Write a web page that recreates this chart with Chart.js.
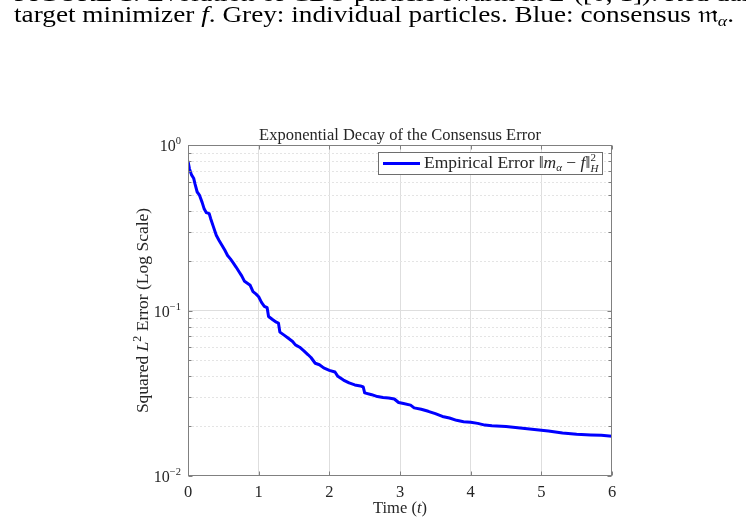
<!DOCTYPE html>
<html>
<head>
<meta charset="utf-8">
<script src="https://cdn.jsdelivr.net/npm/chart.js@4.4.0/dist/chart.umd.min.js"></script>
<style>
html,body{margin:0;padding:0;background:#fff;overflow:hidden;}
#wrap{position:absolute;left:0;top:0;width:746px;height:525px;}
</style>
</head>
<body>
<div id="wrap"><canvas id="c" width="746" height="525"></canvas></div>
<script>
// ---- data ----
const timePoints = [0, 0.02, 0.05, 0.08, 0.1, 0.13, 0.16, 0.2, 0.23, 0.26, 0.3, 0.32, 0.36, 0.4, 0.44, 0.48, 0.52, 0.56, 0.6, 0.64, 0.68, 0.72, 0.76, 0.8, 0.84, 0.88, 0.92, 0.96, 1.0, 1.04, 1.08, 1.12, 1.14, 1.2, 1.25, 1.28, 1.3, 1.36, 1.42, 1.48, 1.52, 1.58, 1.64, 1.7, 1.74, 1.8, 1.86, 1.92, 2.0, 2.08, 2.12, 2.2, 2.28, 2.36, 2.44, 2.48, 2.5, 2.6, 2.68, 2.76, 2.84, 2.92, 2.98, 3.05, 3.15, 3.2, 3.3, 3.4, 3.5, 3.6, 3.7, 3.8, 3.9, 4.0, 4.1, 4.2, 4.3, 4.5, 4.7, 4.9, 5.1, 5.3, 5.5, 5.7, 5.85, 6.0];
const errorValues = [0.80, 0.72, 0.66, 0.63, 0.58, 0.52, 0.50, 0.45, 0.41, 0.39, 0.385, 0.36, 0.32, 0.285, 0.265, 0.248, 0.232, 0.215, 0.205, 0.194, 0.183, 0.172, 0.162, 0.150, 0.146, 0.142, 0.130, 0.126, 0.121, 0.112, 0.106, 0.104, 0.092, 0.088, 0.085, 0.084, 0.074, 0.071, 0.068, 0.065, 0.062, 0.060, 0.057, 0.054, 0.052, 0.048, 0.047, 0.045, 0.0435, 0.0425, 0.040, 0.038, 0.0365, 0.0355, 0.035, 0.0345, 0.0318, 0.031, 0.0302, 0.0298, 0.0296, 0.0292, 0.0278, 0.0274, 0.0268, 0.0258, 0.0253, 0.0246, 0.0238, 0.0229, 0.0224, 0.0217, 0.0213, 0.0211, 0.0208, 0.0203, 0.0201, 0.0199, 0.0195, 0.0191, 0.0187, 0.0182, 0.0179, 0.0177, 0.0176, 0.0174];
const xTickValues = [0, 1, 2, 3, 4, 5, 6];
const yDecades = [0.01, 0.1, 1];
const yDecadeExponents = ['\u22122', '\u22121', '0'];
const seriesLabel = 'Empirical Error';
const chartTitle = 'Exponential Decay of the Consensus Error';

const SERIF = '"Liberation Serif", "DejaVu Serif", serif';
const TXT = '#262626';
const AXIS = '#808080';
const GRID_MAJOR = '#dedede';
const GRID_MINOR = '#e4e4e4';

function minorValues() {
  const out = [];
  for (let d = 0; d < yDecades.length - 1; d++) {
    for (let k = 2; k <= 9; k++) out.push(yDecades[d] * k);
  }
  return out;
}

function richWidth(ctx, segs) {
  let w = 0;
  for (const s of segs) {
    ctx.font = (s.italic ? 'italic ' : '') + s.size + 'px ' + SERIF;
    const m = ctx.measureText(s.t).width;
    if (!s.stack) w += m;
  }
  return w;
}
function drawRich(ctx, segs, x, y, align) {
  let w = richWidth(ctx, segs);
  let cx = align === 'center' ? x - w / 2 : (align === 'right' ? x - w : x);
  ctx.textBaseline = 'alphabetic';
  ctx.textAlign = 'left';
  let lastX = cx;
  for (const s of segs) {
    ctx.font = (s.italic ? 'italic ' : '') + s.size + 'px ' + SERIF;
    const m = ctx.measureText(s.t).width;
    const px = s.stack ? lastX : cx;
    ctx.fillText(s.t, px, y + (s.dy || 0));
    if (!s.stack) { lastX = cx; cx += m; }
  }
  return w;
}

const overlay = {
  id: 'overlay',
  beforeDatasetsDraw(chart) {
    const {ctx, chartArea: a, scales: {y}} = chart;
    ctx.save();
    ctx.strokeStyle = GRID_MINOR;
    ctx.lineWidth = 1;
    ctx.setLineDash([2, 2]);
    for (const v of minorValues()) {
      const py = Math.round(y.getPixelForValue(v)) + 0.5;
      ctx.beginPath(); ctx.moveTo(a.left, py); ctx.lineTo(a.right, py); ctx.stroke();
    }
    ctx.restore();
  },
  afterDatasetsDraw(chart) {
    const {ctx, chartArea: a, scales: {x, y}} = chart;
    ctx.save();
    ctx.strokeStyle = AXIS;
    ctx.lineWidth = 1;
    ctx.setLineDash([]);
    const L = Math.round(a.left) + 0.5, R = Math.round(a.right) - 0.5;
    const T = Math.round(a.top) + 0.5, B = Math.round(a.bottom) - 0.5;
    ctx.strokeRect(L, T, R - L, B - T);
    ctx.beginPath();
    for (const v of xTickValues) {
      const px = Math.round(x.getPixelForValue(v)) + 0.5;
      ctx.moveTo(px, B); ctx.lineTo(px, B - 4);
      ctx.moveTo(px, T); ctx.lineTo(px, T + 4);
    }
    for (const v of yDecades) {
      const py = Math.round(y.getPixelForValue(v)) + 0.5;
      ctx.moveTo(L, py); ctx.lineTo(L + 4, py);
      ctx.moveTo(R, py); ctx.lineTo(R - 4, py);
    }
    for (const v of minorValues()) {
      const py = Math.round(y.getPixelForValue(v)) + 0.5;
      ctx.moveTo(L, py); ctx.lineTo(L + 3, py);
      ctx.moveTo(R, py); ctx.lineTo(R - 3, py);
    }
    ctx.stroke();

    ctx.fillStyle = TXT;
    yDecades.forEach((v, i) => {
      const py = y.getPixelForValue(v);
      drawRich(ctx, [
        {t: '10', size: 16},
        {t: yDecadeExponents[i], size: 10.5, dy: -7}
      ], a.left - 7, py + 6, 'right');
    });
    drawRich(ctx, [{t: chartTitle, size: 16.5}], (a.left + a.right) / 2, a.top - 5, 'center');
    drawRich(ctx, [{t: 'Time (', size: 16.5}, {t: 't', size: 16.5, italic: true}, {t: ')', size: 16.5}],
      (a.left + a.right) / 2, 513, 'center');
    ctx.save();
    ctx.translate(148, (a.top + a.bottom) / 2);
    ctx.rotate(-Math.PI / 2);
    drawRich(ctx, [
      {t: 'Squared ', size: 17.5}, {t: 'L', size: 17.5, italic: true},
      {t: '2', size: 12, dy: -7}, {t: ' Error (Log Scale)', size: 17.5}
    ], 0, 0, 'center');
    ctx.restore();

    // legend
    const lx = 378, ly = 152, lw = 224, lh = 22;
    ctx.fillStyle = '#ffffff';
    ctx.fillRect(lx, ly, lw, lh);
    ctx.strokeStyle = '#6e6e6e';
    ctx.lineWidth = 1;
    ctx.strokeRect(lx + 0.5, ly + 0.5, lw, lh);
    ctx.strokeStyle = '#0000ff';
    ctx.lineWidth = 3;
    ctx.beginPath(); ctx.moveTo(383, ly + 11.5); ctx.lineTo(420, ly + 11.5); ctx.stroke();
    ctx.fillStyle = TXT;
    drawRich(ctx, [
      {t: seriesLabel + ' ', size: 17.5},
      {t: '\u2016', size: 17.5},
      {t: 'm', size: 17.5, italic: true},
      {t: '\u03b1', size: 11, italic: true, dy: 3},
      {t: ' \u2212 ', size: 17.5},
      {t: 'f', size: 17.5, italic: true},
      {t: '\u2016', size: 17.5},
      {t: '2', size: 11, dy: -7},
      {t: 'H', size: 11, italic: true, dy: 4, stack: true}
    ], 424, ly + 16, 'left');

    // caption at top of page
    ctx.fillStyle = '#000000';
    const line1 = [
      {t: 'FIGURE 1: Evolution of CBO particle swarm in ', size: 23},
      {t: 'L', size: 23, italic: true}, {t: '2', size: 15, dy: -9},
      {t: '([0, 1]). Red dashed:', size: 23}
    ];
    const line2 = [
      {t: 'target minimizer ', size: 23}, {t: 'f', size: 23, italic: true},
      {t: '. Grey: individual particles. Blue: consensus ', size: 23},
      {t: '\u{1D52A}', size: 23}, {t: '\u03b1', size: 15, italic: true, dy: 4},
      {t: '.', size: 23}
    ];
    const w2 = richWidth(ctx, line2);
    const sx = 720 / w2;
    ctx.save();
    ctx.translate(14, 0);
    ctx.scale(sx, 1);
    drawRich(ctx, line1, 0, 1, 'left');
    drawRich(ctx, line2, 0, 22, 'left');
    ctx.restore();
    ctx.restore();
  }
};

const chart = new Chart(document.getElementById('c'), {
  type: 'line',
  data: {
    datasets: [{
      label: seriesLabel,
      data: timePoints.map((t, i) => ({x: t, y: errorValues[i]})),
      borderColor: '#0000ff',
      backgroundColor: '#0000ff',
      borderWidth: 3,
      pointRadius: 0,
      tension: 0,
      borderJoinStyle: 'round',
      fill: false
    }]
  },
  options: {
    responsive: false,
    animation: false,
    layout: {padding: {left: 0, right: 134, top: 145, bottom: 0}},
    plugins: {legend: {display: false}, title: {display: false}, tooltip: {enabled: false}},
    scales: {
      x: {
        type: 'linear', min: 0, max: 6,
        afterBuildTicks: (s) => { s.ticks = xTickValues.map(v => ({value: v})); },
        grid: {color: (c) => (c.tick && c.tick.value > 0 && c.tick.value < 6) ? GRID_MAJOR : 'rgba(0,0,0,0)', drawTicks: false, lineWidth: 1},
        border: {display: false},
        ticks: {color: TXT, font: {family: SERIF, size: 16.5}, padding: 7, maxRotation: 0},
        afterFit: (s) => { s.height = 49; }
      },
      y: {
        type: 'logarithmic', min: 0.01, max: 1,
        afterBuildTicks: (s) => { s.ticks = yDecades.map(v => ({value: v})); },
        grid: {color: (c) => (c.tick && c.tick.value > 0.011 && c.tick.value < 0.99) ? GRID_MAJOR : 'rgba(0,0,0,0)', drawTicks: false, lineWidth: 1},
        border: {display: false},
        ticks: {display: false},
        afterFit: (s) => { s.width = 188; }
      }
    }
  },
  plugins: [overlay]
});
</script>
</body>
</html>
